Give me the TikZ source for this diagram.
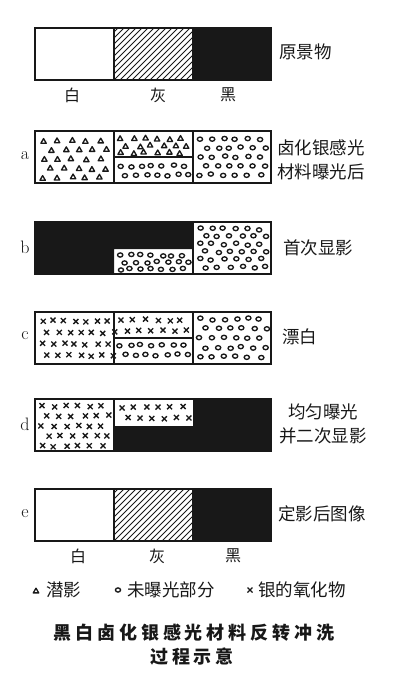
\documentclass[tikz,border=0pt]{standalone}
\usepackage{fontspec}
\usepackage{tikz}
\usetikzlibrary{positioning}
\newfontfamily\cjk{Noto Sans CJK SC}
\newfontfamily\cjkwide[LetterSpace=22]{Noto Sans CJK SC}
\definecolor{ink}{RGB}{24,24,24}
\tikzset{
  bar/.style={draw=ink, line width=1.2pt},
  hatch/.style={draw=ink, line width=0.95pt},
  grainline/.style={draw=ink, line width=1.35pt},
  rowtag/.style={font=\fontsize{18}{20}\selectfont, text=ink, inner sep=0pt},
  tone/.style={font=\cjk\fontsize{16}{18}\selectfont, text=ink, inner sep=0pt},
  caption/.style={font=\cjk\fontsize{17.5}{24}\selectfont, text=ink,
    align=left, anchor=west, inner sep=0pt},
  legendtext/.style={font=\cjk\fontsize{17.5}{20}\selectfont, text=ink,
    anchor=west, inner sep=0pt},
  titletext/.style={font=\cjkwide\bfseries\fontsize{18}{20}\selectfont, text=ink,
    inner sep=0pt},
  latent/.pic={\draw[grainline, line join=round] (0,-2.8) -- (2.7,1.9) -- (-2.7,1.9) -- cycle;},
  grain/.pic={\draw[grainline] (0,0) ellipse [x radius=2.6pt, y radius=2.1pt];},
  oxide/.pic={\draw[grainline] (-2.5,-2.5) -- (2.5,2.5) (-2.5,2.5) -- (2.5,-2.5);}
}
% scatter a pic over a grid: pic, x0, dx, last col, y0, dy, last row
\newcommand{\strew}[7]{%
  \foreach \i in {0,...,#7} \foreach \j in {0,...,#4}
    \pic at ({#2+\j*#3+mod(\i,2)*#3/2+3*rnd-1.5},{#5+\i*#6+2*rnd-1}) {#1};}
\newcommand{\hatchcell}{%
  \begin{scope}
    \clip (114,0) rectangle (193,52);
    \foreach \k in {0,...,22} \draw[hatch] ({60+\k*6},52) -- ++(53,-53);
  \end{scope}}

\begin{document}
\begin{tikzpicture}[x=1pt, y=-1pt]
  \useasboundingbox (0,0) rectangle (400,686);
  \pgfmathsetseed{11}

  % Original scene
  \begin{scope}[shift={(0,28)}]
    \fill[ink] (193,0) rectangle (271,52);
    \hatchcell
    \draw[bar] (35,0) rectangle (271,52) (114,0) -- (114,52) (193,0) -- (193,52);
  \end{scope}
  \node[caption] (scene) at (279,52) {原景物};
  \node[tone] (whiteA) at (72,95) {白};
  \node[tone] (grayA) at (158,95) {灰};
  \node[tone] (blackA) at (228,95) {黑};

  % a: after exposure
  \begin{scope}[shift={(0,131)}]
    \strew{latent}{44}{14}{4}{10}{9.2}{4}
    \strew{latent}{121}{12}{5}{8}{7}{2}
    \strew{grain}{120}{10.5}{6}{35}{9}{1}
    \strew{grain}{200}{12}{5}{8}{9}{4}
    \draw[bar] (35,0) rectangle (271,52) (114,0) -- (114,52) (193,0) -- (193,52)
      (114,26) -- (193,26);
  \end{scope}
  \node[rowtag] (tagA) at (25,156) {a};
  \node[caption] (exposed) at (277,160) {卤化银感光\\材料曝光后};

  % b: first development
  \begin{scope}[shift={(0,222)}]
    \fill[ink] (35,0) rectangle (114,52) (114,0) rectangle (193,27);
    \strew{grain}{120}{10.5}{6}{33}{7}{2}
    \strew{grain}{200}{12}{5}{7}{7.6}{5}
    \draw[bar] (35,0) rectangle (271,52) (193,0) -- (193,52);
  \end{scope}
  \node[rowtag] (tagB) at (25,247) {b};
  \node[caption] (firstdev) at (283,248) {首次显影};

  % c: bleach
  \begin{scope}[shift={(0,312)}]
    \strew{oxide}{42}{11}{6}{9}{11.5}{3}
    \strew{oxide}{121}{12}{5}{8}{11}{1}
    \strew{grain}{120}{10.5}{6}{33}{10}{1}
    \strew{grain}{200}{12}{5}{7}{9.5}{4}
    \draw[bar] (35,0) rectangle (271,52) (114,0) -- (114,52) (193,0) -- (193,52)
      (114,26) -- (193,26);
  \end{scope}
  \node[rowtag] (tagC) at (25,336) {c};
  \node[caption] (bleach) at (282,337) {漂白};

  % d: uniform exposure and second development
  \begin{scope}[shift={(0,399)}]
    \fill[ink] (114,27) rectangle (193,52) (193,0) rectangle (271,52);
    \strew{oxide}{42}{12}{5}{7}{10}{4}
    \strew{oxide}{122}{12}{5}{8}{11}{1}
    \draw[bar] (35,0) rectangle (271,52) (114,0) -- (114,52);
  \end{scope}
  \node[rowtag] (tagD) at (25,424) {d};
  \node[caption, align=center, anchor=center] (seconddev) at (323,424)
    {均匀曝光\\并二次显影};

  % e: final image
  \begin{scope}[shift={(0,489)}]
    \fill[ink] (193,0) rectangle (271,52);
    \hatchcell
    \draw[bar] (35,0) rectangle (271,52) (114,0) -- (114,52) (193,0) -- (193,52);
  \end{scope}
  \node[rowtag] (tagE) at (25,514) {e};
  \node[caption] (fixed) at (278,514) {定影后图像};
  \node[tone] (whiteE) at (78,556) {白};
  \node[tone] (grayE) at (157,556) {灰};
  \node[tone] (blackE) at (233,556) {黑};

  % Legend
  \pic at (36,591) {latent};
  \node[legendtext] (keylatent) at (46,590) {潜影};
  \pic at (118,590) {grain};
  \node[legendtext] (keygrain) at (127,590) {未曝光部分};
  \pic at (250,590) {oxide};
  \node[legendtext] (keyoxide) at (258,590) {银的氧化物};

  % Title
  \node[titletext] (titleA) at (194,633) {黑白卤化银感光材料反转冲洗};
  \node[titletext] (titleB) at (192,657) {过程示意};
\end{tikzpicture}
\end{document}
